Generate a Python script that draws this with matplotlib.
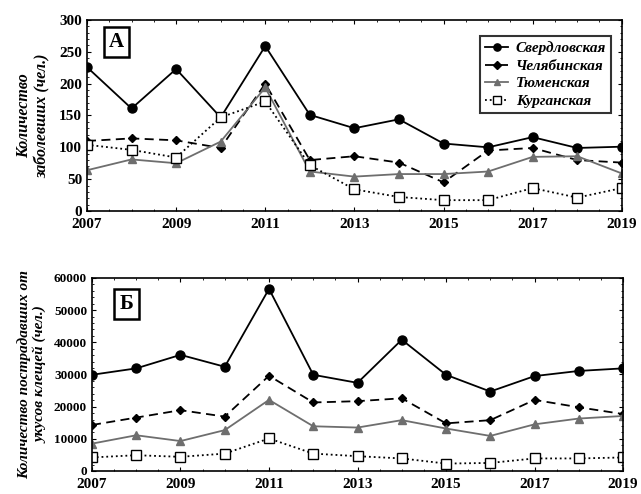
import matplotlib
matplotlib.use('Agg')
from matplotlib import pyplot as plt
from matplotlib.ticker import MultipleLocator

plt.rcParams['font.family'] = ['Liberation Serif', 'DejaVu Serif']
plt.rcParams['font.weight'] = 'bold'

years = list(range(2007, 2020))
year_ticks = list(range(2007, 2020, 2))
names = ['Свердловская', 'Челябинская', 'Тюменская', 'Курганская']

# cases (chel.)
sverd_cases = [226, 161, 223, 147, 259, 151, 130, 144, 106, 100, 116, 99, 101]
chel_cases = [110, 114, 111, 99, 200, 80, 86, 76, 45, 95, 99, 80, 76]
tyum_cases = [64, 81, 75, 109, 194, 62, 54, 58, 58, 62, 85, 86, 59]
kurg_cases = [104, 96, 84, 147, 172, 72, 34, 22, 17, 17, 36, 21, 36]

# tick bites (chel.)
sverd_bites = [29900, 31900, 36100, 32400, 56600, 29900, 27400, 40800, 29900, 24700, 29500, 31100, 31900]
chel_bites = [14300, 16600, 18900, 16900, 29600, 21300, 21700, 22600, 14800, 15800, 22100, 19800, 17700]
tyum_bites = [8500, 11100, 9300, 12700, 22100, 13900, 13500, 15800, 13200, 10900, 14500, 16300, 17100]
kurg_bites = [4200, 4900, 4400, 5400, 10100, 5400, 4600, 3900, 2300, 2500, 3900, 3900, 4200]

styles = [
    dict(color='black', linestyle='-', marker='o', markersize=6.5, linewidth=1.3),
    dict(color='black', linestyle=(0, (5, 3)), marker='D', markersize=4.5, linewidth=1.3),
    dict(color='#6e6e6e', linestyle='-', marker='^', markersize=6, linewidth=1.3),
    dict(color='black', linestyle=':', marker='s', markersize=6.5, markerfacecolor='white',
         linewidth=1.3),
]

fig = plt.figure(figsize=(6.41, 4.94), dpi=100)
ax1 = fig.add_axes([0.1357, 0.5729, 0.8343, 0.3866])
ax2 = fig.add_axes([0.1435, 0.0466, 0.8285, 0.3907])


def style_axis(ax, ysize):
    ax.set_xlim(2007, 2019)
    ax.set_xticks(year_ticks)
    ax.xaxis.set_minor_locator(MultipleLocator(0.5))
    ax.tick_params(which='both', direction='in', top=True, right=True)
    ax.tick_params(which='major', length=3)
    ax.tick_params(which='minor', length=1.5)
    ax.tick_params(axis='x', pad=5, labelsize=11)
    ax.tick_params(axis='y', labelsize=ysize)
    for s in ax.spines.values():
        s.set_linewidth(1.2)
    for lab in ax.get_xticklabels() + ax.get_yticklabels():
        lab.set_fontweight('bold')


for data, st, name in zip([sverd_cases, chel_cases, tyum_cases, kurg_cases], styles, names):
    ax1.plot(years, data, label=name, **st)
ax1.set_ylim(0, 300)
ax1.yaxis.set_major_locator(MultipleLocator(50))
ax1.yaxis.set_minor_locator(MultipleLocator(10))
style_axis(ax1, 11)
ax1.set_ylabel('Количество\nзаболевших (чел.)', fontsize=11.5, fontweight='bold',
               fontstyle='italic', labelpad=6)
leg = ax1.legend(loc='upper right', bbox_to_anchor=(0.995, 0.955), fancybox=False,
                 edgecolor='black', handlelength=1.5, handletextpad=0.5,
                 borderpad=0.35, labelspacing=0.25, markerscale=0.8,
                 prop=dict(weight='bold', style='italic', size=11))
leg.get_frame().set_linewidth(1.5)
ax1.text(0.055, 0.885, 'А', transform=ax1.transAxes, fontsize=15, fontweight='bold',
         ha='center', va='center',
         bbox=dict(boxstyle='square,pad=0.25', facecolor='white', edgecolor='black', linewidth=1.8))

for data, st in zip([sverd_bites, chel_bites, tyum_bites, kurg_bites], styles):
    ax2.plot(years, data, **st)
ax2.set_ylim(0, 60000)
ax2.yaxis.set_major_locator(MultipleLocator(10000))
ax2.yaxis.set_minor_locator(MultipleLocator(2000))
style_axis(ax2, 9.5)
ax2.set_ylabel('Количество пострадавших от\nукусов клещей (чел.)', fontsize=11,
               fontweight='bold', fontstyle='italic', labelpad=5)
ax2.text(0.065, 0.865, 'Б', transform=ax2.transAxes, fontsize=15, fontweight='bold',
         ha='center', va='center',
         bbox=dict(boxstyle='square,pad=0.25', facecolor='white', edgecolor='black', linewidth=1.8))

fig.savefig('out.png', dpi=100)
